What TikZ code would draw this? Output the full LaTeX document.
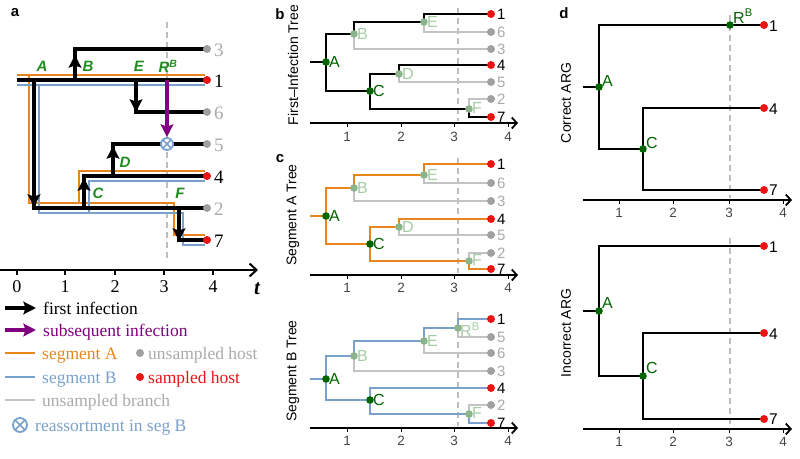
\documentclass[tikz,border=0pt]{standalone}
\usepackage{fontspec}
\setmainfont{Liberation Serif}
\newfontfamily\hv{Liberation Sans}
\usetikzlibrary{arrows.meta,calc}
\definecolor{orA}{RGB}{232,134,30}
\definecolor{blB}{RGB}{122,160,204}
\definecolor{grA}{RGB}{30,140,30}
\definecolor{dgr}{RGB}{0,100,0}
\definecolor{fdot}{RGB}{140,180,140}
\definecolor{flab}{RGB}{165,205,165}
\definecolor{pur}{RGB}{128,0,128}
\definecolor{redT}{RGB}{235,20,20}
\definecolor{gTip}{RGB}{160,160,160}
\definecolor{gTxt}{RGB}{170,170,170}
\definecolor{gBr}{RGB}{195,195,195}
\definecolor{gDash}{RGB}{190,190,190}
\definecolor{tickc}{RGB}{70,70,70}
\newcommand{\fsz}[1]{\fontsize{#1}{#1}\selectfont}
\tikzset{
  blk/.style={line width=4.6pt},
  colA/.style={line width=2.8pt, draw=orA},
  colB/.style={line width=2.8pt, draw=blB},
  bigarr/.style={line width=4.6pt, -{Stealth[length=12.5pt,width=12.5pt,inset=2pt]}},
  dsh/.style={draw=gDash, line width=1.3pt, dash pattern=on 6pt off 4pt},
  tb/.style={line width=2.8pt},
  gbr/.style={line width=1.3pt, draw=gBr},
  tax/.style={line width=1.8pt, -{Straight Barb[length=5pt,width=11pt]}},
  aax/.style={line width=2pt, -{Straight Barb[length=7pt,width=13pt]}},
  lab/.style={font=\hv\bfseries\itshape\fsz{15}, text=grA, inner sep=0pt},
  plet/.style={font=\hv\bfseries\fsz{15}, inner sep=0pt},
  ylab/.style={font=\hv\fsz{14}, rotate=90, inner sep=0pt},
  atip/.style={font=\fsz{19}, anchor=west, inner sep=0pt},
  ttip/.style={font=\hv\fsz{15}, anchor=west, inner sep=0pt},
  dtip/.style={font=\hv\fsz{15.5}, anchor=west, inner sep=0pt},
  tlab/.style={font=\hv\fsz{13.5}, text=tickc, inner sep=0pt},
  nlab/.style={font=\hv\fsz{16}, anchor=west, inner sep=0pt, text=dgr},
  flabs/.style={font=\hv\fsz{16}, anchor=west, inner sep=0pt, text=flab},
  leg/.style={font=\fsz{17.5}, anchor=base west, inner sep=0pt},
}
\newcommand{\rdot}[2]{\fill[redT] (#1,#2) circle (4pt);}
\newcommand{\gdot}[2]{\fill[gTip] (#1,#2) circle (4pt);}
\newcommand{\ndot}[2]{\fill[dgr] (#1,#2) circle (3.8pt);}
\newcommand{\fndot}[2]{\fill[fdot] (#1,#2) circle (3.8pt);}
\newcommand{\otimesmark}[3]{\filldraw[draw=blB, fill=white, line width=1.8pt] (#1,#2) circle (#3);
  \draw[blB, line width=1.5pt] ($(#1,#2)+(-0.7*#3,-0.7*#3)$) -- ($(#1,#2)+(0.7*#3,0.7*#3)$)
  ($(#1,#2)+(-0.7*#3,0.7*#3)$) -- ($(#1,#2)+(0.7*#3,-0.7*#3)$);}
\begin{document}
\begin{tikzpicture}[x=1pt,y=-1pt]
\useasboundingbox (0,0) rectangle (800,458);
% ================= panel a =================
\node[plet] at (15,13) {a};
\draw[dsh] (167,22) -- (167,262);
% segment colours
\draw[colA] (17,75) -- (205,75);
\draw[colA] (29,75) -- (29,203) -- (174,203) -- (174,235) -- (205,235);
\draw[colA] (79,203) -- (79,171) -- (205,171);
\draw[colB] (17,85) -- (205,85);
\draw[colB] (39,85) -- (39,213) -- (183,213) -- (183,245) -- (205,245);
\draw[colB] (89,213) -- (89,181) -- (205,181);
% infection lines
\draw[blk] (17,80) -- (207,80);
\draw[blk] (75,80) -- (75,49) -- (207,49);
\draw[blk] (136,80) -- (136,112) -- (207,112);
\draw[blk] (34,80) -- (34,208) -- (207,208);
\draw[blk] (84,208) -- (84,176) -- (207,176);
\draw[blk] (113,176) -- (113,144) -- (207,144);
\draw[blk] (179,208) -- (179,240) -- (207,240);
% arrows
\draw[bigarr] (75,72) -- (75,55);
\draw[bigarr] (136,92) -- (136,112);
\draw[bigarr] (34,185) -- (34,207);
\draw[bigarr] (84,200) -- (84,178);
\draw[bigarr] (113,168) -- (113,146);
\draw[bigarr] (179,218) -- (179,241);
\draw[bigarr, draw=pur, fill=pur] (167,80) -- (167,137);
\otimesmark{167}{144}{6pt}
% tips
\gdot{207}{49} \rdot{207}{80} \gdot{207}{112} \gdot{207}{144}
\rdot{207}{176} \gdot{207}{208} \rdot{207}{240}
\node[atip, text=gTxt] at (214,50) {3};
\node[atip] at (214,81) {1};
\node[atip, text=gTxt] at (214,113) {6};
\node[atip, text=gTxt] at (214,145) {5};
\node[atip] at (214,177) {4};
\node[atip, text=gTxt] at (214,209) {2};
\node[atip] at (214,241) {7};
% event labels
\node[lab] at (42,66) {A};
\node[lab] at (88,66) {B};
\node[lab] at (139,66) {E};
\node[lab] at (168,66) {R\textsuperscript{B}};
\node[lab] at (125,162) {D};
\node[lab] at (98,193) {C};
\node[lab] at (180,193) {F};
% axis
\draw[aax] (0,270) -- (258,270);
\foreach \xx/\tt in {17/0,65/1,115/2,164/3,213/4}{
  \draw[line width=1.2pt] (\xx,270) -- (\xx,275);
  \node[font=\fsz{18}, inner sep=0pt] at (\xx,287) {\tt};
}
\node[font=\bfseries\itshape\fsz{21}, inner sep=0pt] at (257,289) {t};
% legend
\draw[bigarr] (5,308) -- (36,308);
\node[leg] at (43,314) {first infection};
\draw[bigarr, draw=pur, fill=pur] (5,330) -- (36,330);
\node[leg, text=pur] at (43,336) {subsequent infection};
\draw[colA] (5,353) -- (35,353);
\node[leg, text=orA] at (42,359) {segment A};
\gdot{140}{353}
\node[leg, text=gTxt] at (148,359) {unsampled host};
\draw[colB] (5,377) -- (35,377);
\node[leg, text=blB] at (42,383) {segment B};
\rdot{140}{377}
\node[leg, text=redT] at (148,383) {sampled host};
\draw[line width=2.8pt, gBr] (5,400) -- (35,400);
\node[leg, text=gTxt] at (42,406) {unsampled branch};
\otimesmark{20}{425}{7pt}
\node[leg, text=blB] at (35,431) {reassortment in seg B};
% ================= panel b =================
\node[plet] at (280,14) {b};
\node[ylab] at (293,65) {First–Infection Tree};
\draw[dsh] (458,8) -- (458,121);
\draw[gbr] (354,34) -- (354,49) -- (491,49);
\draw[gbr] (424,22) -- (424,32) -- (491,32);
\draw[gbr] (399,74) -- (399,82) -- (491,82);
\draw[gbr] (469,109) -- (469,99) -- (491,99);
\draw[tb] (310,62) -- (326,62);
\draw[tb] (491,14) -- (424,14) -- (424,22) -- (354,22) -- (354,34) -- (326,34) -- (326,91) -- (370,91) -- (370,74) -- (399,74) -- (399,65) -- (491,65);
\draw[tb] (370,91) -- (370,109) -- (469,109) -- (469,117) -- (491,117);
\draw[tax] (310,123) -- (518,123);
\foreach \xx/\tt in {347/1,401/2,454/3,508/4}{
  \draw[line width=1pt] (\xx,123) -- (\xx,127);
  \node[tlab] at (\xx,137) {\tt};
}
\rdot{491}{14} \gdot{491}{32} \gdot{491}{49} \rdot{491}{65} \gdot{491}{82} \gdot{491}{99} \rdot{491}{117}
\node[ttip] at (497,14) {1};
\node[ttip, text=gTxt] at (497,32) {6};
\node[ttip, text=gTxt] at (497,49) {3};
\node[ttip] at (497,65) {4};
\node[ttip, text=gTxt] at (497,82) {5};
\node[ttip, text=gTxt] at (497,99) {2};
\node[ttip] at (497,117) {7};
\ndot{326}{62} \ndot{370}{91}
\fndot{354}{34} \fndot{424}{22} \fndot{399}{74} \fndot{469}{109}
\node[nlab] at (329,62) {A};
\node[nlab] at (373,91) {C};
\node[flabs] at (357,34) {B};
\node[flabs] at (427,22) {E};
\node[flabs] at (402,74) {D};
\node[flabs] at (472,108) {F};
% ================= panel c =================
\node[plet] at (280,159) {c};
\node[ylab] at (293,215) {Segment A Tree};
\draw[dsh] (458,158) -- (458,273);
\draw[gbr] (354,188) -- (354,201) -- (491,201);
\draw[gbr] (424,175) -- (424,183) -- (491,183);
\draw[gbr] (399,227) -- (399,235) -- (491,235);
\draw[gbr] (469,261) -- (469,253) -- (491,253);
\draw[tb, orA] (310,216) -- (326,216);
\draw[tb, orA] (491,164) -- (424,164) -- (424,175) -- (354,175) -- (354,188) -- (326,188) -- (326,244) -- (370,244) -- (370,227) -- (399,227) -- (399,219) -- (491,219);
\draw[tb, orA] (370,244) -- (370,261) -- (469,261) -- (469,269) -- (491,269);
\draw[tax] (310,275) -- (518,275);
\foreach \xx/\tt in {347/1,401/2,454/3,508/4}{
  \draw[line width=1pt] (\xx,275) -- (\xx,279);
  \node[tlab] at (\xx,288) {\tt};
}
\rdot{491}{164} \gdot{491}{183} \gdot{491}{201} \rdot{491}{219} \gdot{491}{235} \gdot{491}{253} \rdot{491}{269}
\node[ttip] at (497,164) {1};
\node[ttip, text=gTxt] at (497,183) {6};
\node[ttip, text=gTxt] at (497,201) {3};
\node[ttip] at (497,219) {4};
\node[ttip, text=gTxt] at (497,235) {5};
\node[ttip, text=gTxt] at (497,253) {2};
\node[ttip] at (497,269) {7};
\ndot{326}{216} \ndot{370}{244}
\fndot{354}{188} \fndot{424}{175} \fndot{399}{227} \fndot{469}{261}
\node[nlab] at (329,216) {A};
\node[nlab] at (373,244) {C};
\node[flabs] at (357,188) {B};
\node[flabs] at (427,175) {E};
\node[flabs] at (402,227) {D};
\node[flabs] at (472,260) {F};
% ================= segment B tree =================
\node[ylab] at (293,371) {Segment B Tree};
\draw[dsh] (458,312) -- (458,426);
\draw[gbr] (354,356) -- (354,371) -- (491,371);
\draw[gbr] (424,341) -- (424,353) -- (491,353);
\draw[gbr] (458,328) -- (458,337) -- (491,337);
\draw[gbr] (469,414) -- (469,405) -- (491,405);
\draw[tb, blB] (310,379) -- (326,379);
\draw[tb, blB] (491,319) -- (458,319) -- (458,328) -- (424,328) -- (424,341) -- (354,341) -- (354,356) -- (326,356) -- (326,400) -- (370,400) -- (370,388) -- (491,388);
\draw[tb, blB] (370,400) -- (370,414) -- (469,414) -- (469,423) -- (491,423);
\draw[tax] (310,428) -- (518,428);
\foreach \xx/\tt in {347/1,401/2,454/3,508/4}{
  \draw[line width=1pt] (\xx,428) -- (\xx,432);
  \node[tlab] at (\xx,441) {\tt};
}
\rdot{491}{319} \gdot{491}{337} \gdot{491}{353} \gdot{491}{371} \rdot{491}{388} \gdot{491}{405} \rdot{491}{423}
\node[ttip] at (497,319) {1};
\node[ttip, text=gTxt] at (497,337) {5};
\node[ttip, text=gTxt] at (497,353) {6};
\node[ttip, text=gTxt] at (497,371) {3};
\node[ttip] at (497,388) {4};
\node[ttip, text=gTxt] at (497,405) {2};
\node[ttip] at (497,423) {7};
\ndot{326}{379} \ndot{370}{400}
\fndot{354}{356} \fndot{424}{341} \fndot{458}{328} \fndot{469}{414}
\node[nlab] at (329,379) {A};
\node[nlab] at (373,400) {C};
\node[flabs] at (357,356) {B};
\node[flabs] at (427,341) {E};
\node[flabs] at (460,330) {R\textsuperscript{B}};
\node[flabs] at (472,413) {F};
% ================= panel d : correct ARG =================
\node[plet] at (564,13) {d};
\node[ylab] at (566,103) {Correct ARG};
\draw[dsh] (730,15) -- (730,198);
\draw[tb] (583,87) -- (599,87);
\draw[tb] (764,25) -- (599,25) -- (599,149) -- (643,149);
\draw[tb] (764,108) -- (643,108) -- (643,190) -- (764,190);
\draw[tax] (583,200) -- (792,200);
\foreach \xx/\tt in {619/1,673/2,729/3,783/4}{
  \draw[line width=1pt] (\xx,200) -- (\xx,204);
  \node[tlab] at (\xx,213) {\tt};
}
\rdot{764}{25} \rdot{764}{108} \rdot{764}{190}
\node[dtip] at (769,26) {1};
\node[dtip] at (769,109) {4};
\node[dtip] at (769,190) {7};
\ndot{599}{87} \ndot{643}{149} \ndot{730}{25}
\node[nlab, anchor=base west] at (602,86) {A};
\node[nlab, anchor=base west] at (646,148) {C};
\node[nlab, anchor=base west] at (733,23) {R\textsuperscript{B}};
% ================= panel d : incorrect ARG =================
\node[ylab] at (566,333) {Incorrect ARG};
\draw[dsh] (730,238) -- (730,427);
\draw[tb] (583,311) -- (599,311);
\draw[tb] (764,246) -- (599,246) -- (599,376) -- (643,376);
\draw[tb] (764,333) -- (643,333) -- (643,419) -- (764,419);
\draw[tax] (583,429) -- (792,429);
\foreach \xx/\tt in {619/1,673/2,729/3,783/4}{
  \draw[line width=1pt] (\xx,429) -- (\xx,433);
  \node[tlab] at (\xx,442) {\tt};
}
\rdot{764}{246} \rdot{764}{333} \rdot{764}{419}
\node[dtip] at (769,247) {1};
\node[dtip] at (769,334) {4};
\node[dtip] at (769,419) {7};
\ndot{599}{311} \ndot{643}{376}
\node[nlab, anchor=base west] at (602,308) {A};
\node[nlab, anchor=base west] at (646,373) {C};
\end{tikzpicture}
\end{document}
